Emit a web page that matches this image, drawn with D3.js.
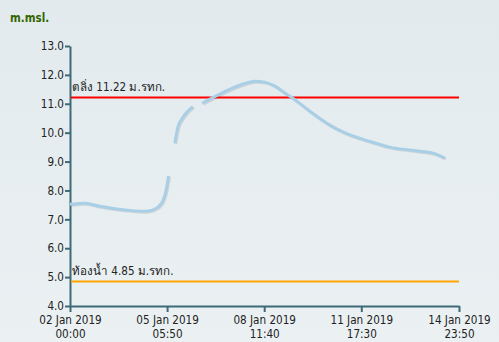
<!DOCTYPE html>
<html>
<head>
<meta charset="utf-8">
<script src="https://cdn.jsdelivr.net/npm/d3@7"></script>
<style>
html,body{margin:0;padding:0;}
body{width:499px;height:342px;overflow:hidden;}
svg{display:block;}
</style>
</head>
<body>
<svg id="chart" width="499" height="342"></svg>
<script>
// ---- data ----
const times = [
  "2019-01-02 00:00","2019-01-02 12:00","2019-01-03 00:00","2019-01-03 12:00",
  "2019-01-04 00:00","2019-01-04 12:00","2019-01-04 18:00","2019-01-05 00:00",
  "2019-01-05 02:30","2019-01-05 05:00","2019-01-05 07:00","2019-01-05 10:00",
  "2019-01-05 12:00","2019-01-05 14:30","2019-01-05 18:00","2019-01-05 22:00",
  "2019-01-06 02:30","2019-01-06 06:00","2019-01-06 10:00","2019-01-06 20:00",
  "2019-01-07 08:00","2019-01-07 20:00","2019-01-08 04:00","2019-01-08 12:00",
  "2019-01-08 20:00","2019-01-09 04:00","2019-01-09 12:00","2019-01-10 00:00",
  "2019-01-10 08:00","2019-01-10 16:00","2019-01-11 04:00","2019-01-11 16:00",
  "2019-01-12 04:00","2019-01-12 16:00","2019-01-13 08:00","2019-01-13 22:00",
  "2019-01-14 06:00","2019-01-14 12:30"
];
const levels = [
  7.52, 7.56, 7.45, 7.37,
  7.31, 7.28, 7.32, 7.48,
  7.65, 8.0, 8.5, null,
  9.64, 10.2, 10.5, 10.72,
  10.9, null, 11.02, 11.25,
  11.5, 11.7, 11.78, 11.75,
  11.62, 11.38, 11.15, 10.75,
  10.5, 10.27, 10.0, 9.81,
  9.65, 9.5, 9.4, 9.33,
  9.25, 9.12
];
const refNames = ["ตลิ่ง", "ท้องน้ำ"];
const refValues = [11.22, 4.85];
const refColors = ["#ff0000", "#ffa500"];
const yTicks = [4,5,6,7,8,9,10,11,12,13];
const xTickLabels = [
  ["02 Jan 2019","00:00"],["05 Jan 2019","05:50"],["08 Jan 2019","11:40"],
  ["11 Jan 2019","17:30"],["14 Jan 2019","23:50"]
];
const xStart = "2019-01-02 00:00", xEnd = "2019-01-14 23:50";
const yUnit = "m.msl.";

// ---- chart ----
const W = 499, H = 342;
const margin = {left:70, right:40, top:46, bottom:36};
const parse = d3.timeParse("%Y-%m-%d %H:%M");
const data = times.map((t,i)=>({t:parse(t), v:levels[i]}));

const svg = d3.select("#chart");
const defs = svg.append("defs");
const grad = defs.append("linearGradient").attr("id","bg").attr("x1",0).attr("y1",0).attr("x2",0).attr("y2",1);
grad.append("stop").attr("offset","0%").attr("stop-color","#e2eaed");
grad.append("stop").attr("offset","100%").attr("stop-color","#ebf1f3");
svg.append("rect").attr("width",W).attr("height",H).attr("fill","url(#bg)");

const x = d3.scaleTime().domain([parse(xStart), parse(xEnd)]).range([margin.left, W - margin.right]);
const y = d3.scaleLinear().domain([4,13]).range([H - margin.bottom, margin.top]);

const font = "'DejaVu Sans Condensed', 'DejaVu Sans', sans-serif";
const fs = "11.6px";
const axisColor = "#3e6a78";

// y axis
const yAxis = svg.append("g").attr("transform",`translate(${margin.left},0)`)
  .call(d3.axisLeft(y).tickValues(yTicks).tickFormat(d3.format(".1f")).tickSize(5).tickSizeOuter(0));
yAxis.select(".domain").attr("stroke",axisColor).attr("stroke-width",2);
yAxis.selectAll(".tick line").attr("stroke",axisColor).attr("stroke-width",2);
yAxis.selectAll(".tick text").attr("fill","#222").style("font-family",font).style("font-size",fs).attr("x",-6);

// x axis
const xTickVals = d3.range(xTickLabels.length).map(i => {
  if (i === xTickLabels.length-1) return parse(xEnd);
  return new Date(parse(xStart).getTime() + i*(4670*60000));
});
const xAxis = svg.append("g").attr("transform",`translate(0,${H - margin.bottom})`)
  .call(d3.axisBottom(x).tickValues(xTickVals).tickFormat("").tickSize(6).tickSizeOuter(0));
xAxis.select(".domain").attr("stroke",axisColor).attr("stroke-width",2);
xAxis.selectAll(".tick line").attr("stroke",axisColor).attr("stroke-width",2);
xAxis.selectAll(".tick").each(function(d,i){
  const t = d3.select(this).select("text").attr("fill","#222").style("font-family",font).style("font-size",fs).attr("y",8).attr("dy",0);
  t.text(null);
  t.append("tspan").attr("x",0).attr("dy","0.9em").text(xTickLabels[i][0]);
  t.append("tspan").attr("x",0).attr("dy","1.2em").text(xTickLabels[i][1]);
});

// unit label
svg.append("text").attr("x",10).attr("y",22).text(yUnit)
  .style("font-family",font).style("font-size","11.5px").style("font-weight","bold").attr("fill","#336600");

// reference lines
refValues.forEach((v,i)=>{
  svg.append("line").attr("x1",x.range()[0]+1).attr("x2",x.range()[1]).attr("y1",y(v)).attr("y2",y(v))
    .attr("stroke",refColors[i]).attr("stroke-width",2);
  svg.append("text").attr("x",x.range()[0]+2).attr("y",y(v)-6)
    .text(`${refNames[i]} ${v.toFixed(2)} ม.รทก.`)
    .style("font-family",font).style("font-size",fs).attr("fill","#222");
});

// water level line
const line = d3.line().defined(d=>d.v!=null).x(d=>x(d.t)).y(d=>y(d.v)).curve(d3.curveMonotoneX);
svg.append("path").datum(data).attr("d",line).attr("fill","none")
  .attr("stroke","#000").attr("stroke-opacity",0.1).attr("stroke-width",3)
  .attr("transform","translate(1,1)");
svg.append("path").datum(data).attr("d",line).attr("fill","none")
  .attr("stroke","#a9cfe6").attr("stroke-width",3);
</script>
</body>
</html>
